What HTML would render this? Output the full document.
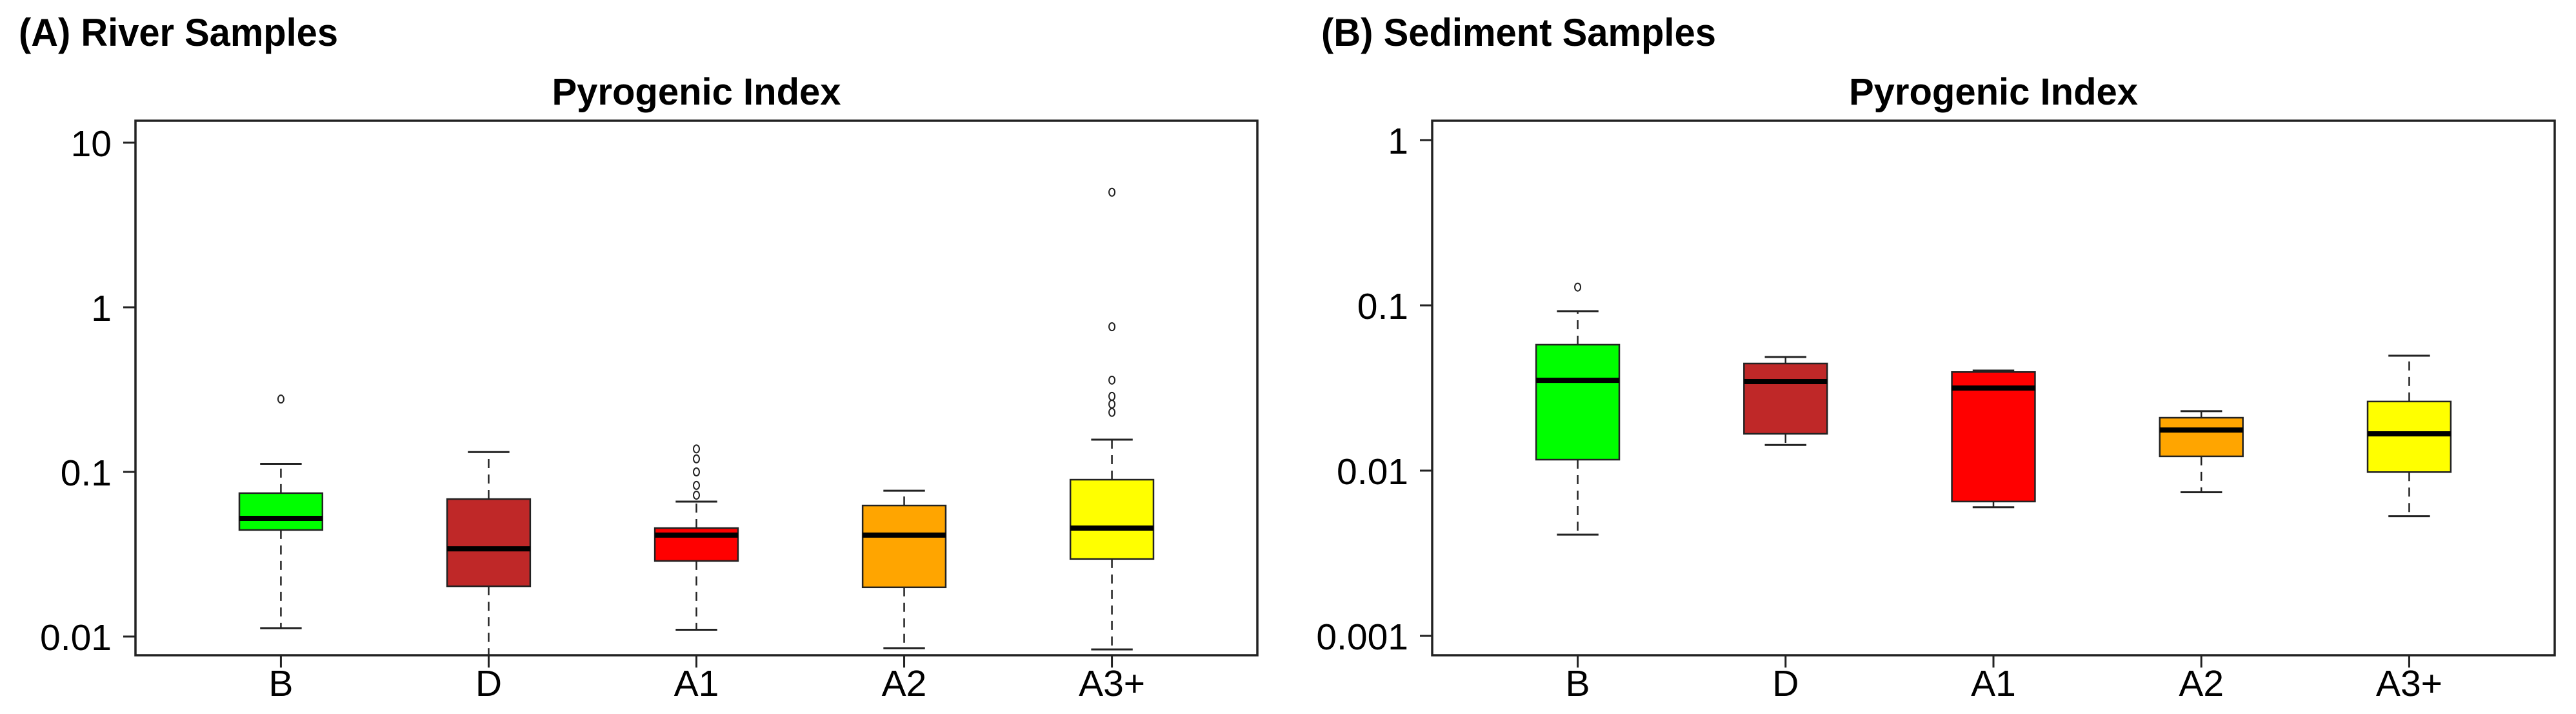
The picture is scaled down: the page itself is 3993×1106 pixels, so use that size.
<!DOCTYPE html>
<html><head><meta charset="utf-8"><style>
html,body{margin:0;padding:0;background:#fff;}
svg{display:block;font-family:"Liberation Sans",Arial,sans-serif;}
</style></head><body>
<svg id="chart" width="3993" height="1106" viewBox="0 0 3993 1106" xmlns="http://www.w3.org/2000/svg">
<rect x="0" y="0" width="3993" height="1106" fill="#fff"/>
<text x="29" y="71" font-size="60" font-weight="bold" textLength="495" lengthAdjust="spacingAndGlyphs">(A) River Samples</text>
<text x="2048" y="71" font-size="60" font-weight="bold" textLength="612" lengthAdjust="spacingAndGlyphs">(B) Sediment Samples</text>
</svg>
<script>
const categories = ["B","D","A1","A2","A3+"];
const colors = ["#00FF00","#BF2828","#FF0000","#FFA500","#FFFF00"];
// River samples: [lowerWhisker, Q1, median, Q3, upperWhisker]
const riverLow = [0.01125, 0.004, 0.0110, 0.0085, 0.00835];
const riverQ1 = [0.0444, 0.0202, 0.0288, 0.0199, 0.0296];
const riverMed = [0.0522, 0.0341, 0.0413, 0.0413, 0.0456];
const riverQ3 = [0.0743, 0.0684, 0.0456, 0.0625, 0.0897];
const riverHigh = [0.112, 0.132, 0.066, 0.0769, 0.157];
const riverOutliers = [[0.277], [], [0.138,0.120,0.100,0.0828,0.0722], [], [5.0,0.762,0.361,0.288,0.258,0.230]];
const riverTicks = [0.01, 0.1, 1, 10];
const riverTickLabels = ["0.01","0.1","1","10"];
// Sediment samples
const sedLow = [0.0041, 0.0143, 0.0060, 0.0074, 0.0053];
const sedQ1 = [0.01165, 0.0167, 0.0065, 0.0122, 0.0098];
const sedMed = [0.0352, 0.0346, 0.0316, 0.0176, 0.0167];
const sedQ3 = [0.0578, 0.0445, 0.0395, 0.0209, 0.0262];
const sedHigh = [0.0922, 0.0487, 0.0403, 0.0229, 0.0496];
const sedOutliers = [[0.129], [], [], [], []];
const sedTicks = [0.001, 0.01, 0.1, 1];
const sedTickLabels = ["0.001","0.01","0.1","1"];

const NS = "http://www.w3.org/2000/svg";
const svg = document.getElementById("chart");
function mk(tag, attrs, parent){
  const e = document.createElementNS(NS, tag);
  for (const k in attrs) e.setAttribute(k, attrs[k]);
  (parent||svg).appendChild(e);
  return e;
}

function panel(id, left, right, top, bottom, refVal, refY, decade, low, q1, med, q3, high, outs, ticks, tickLabels){
  const g = mk("g", {});
  
  
  const step = (right - left) / 5.4;
  const xScale = i => left + step * (i + 0.7);
  const yScale = v => refY - decade * Math.log10(v / refVal);
  const clipY = y => Math.min(Math.max(y, top), bottom);
  const cx = (left + right) / 2;
  const title = mk("text", {x: cx, y: 162, "font-size": 58, "font-weight": "bold", "text-anchor": "middle"}, g);
  title.textContent = "Pyrogenic Index";
  
  
  ticks.forEach((t, i) => {
    const y = yScale(t);
    const tl = mk("line", {x1: left - 19, x2: left, y1: y, y2: y, stroke: "#222", "stroke-width": 3}, g);
    
    
    const tx = mk("text", {x: left - 37, y: y + 21, "font-size": 57, "text-anchor": "end"}, g);
    tx.textContent = tickLabels[i];
    
    
  });
  categories.forEach((c, i) => {
    const x = xScale(i);
    const hw = step * 0.2, cw = step * 0.1;
    const grp = mk("g", {}, g);
    
    
    const yl = clipY(yScale(low[i])), y1 = yScale(q1[i]), ym = yScale(med[i]), y3 = yScale(q3[i]), yh = yScale(high[i]);
    const w1 = mk("line", {x1: x, x2: x, y1: y1, y2: yl, stroke: "#222", "stroke-width": 2.5, "stroke-dasharray": "14 10"}, grp);
    
    
    const w2 = mk("line", {x1: x, x2: x, y1: y3, y2: yh, stroke: "#222", "stroke-width": 2.5, "stroke-dasharray": "14 10"}, grp);
    
    
    if (yScale(low[i]) <= bottom) {
      const c1 = mk("line", {x1: x - cw, x2: x + cw, y1: yl, y2: yl, stroke: "#222", "stroke-width": 3}, grp);
      
      
    }
    const c2 = mk("line", {x1: x - cw, x2: x + cw, y1: yh, y2: yh, stroke: "#222", "stroke-width": 3}, grp);
    
    
    const r = mk("rect", {x: x - hw, y: y3, width: 2 * hw, height: y1 - y3, fill: colors[i], stroke: "#222", "stroke-width": 2.5}, grp);
    
    
    const m = mk("line", {x1: x - hw, x2: x + hw, y1: ym, y2: ym, stroke: "#000", "stroke-width": 8}, grp);
    
    
    outs[i].forEach(v => {
      const o = mk("ellipse", {cx: x, cy: yScale(v), rx: 4.5, ry: 6, fill: "none", stroke: "#222", "stroke-width": 2}, grp);
      
      
    });
    const xt = mk("line", {x1: x, x2: x, y1: bottom, y2: bottom + 19, stroke: "#222", "stroke-width": 3}, g);
    
    
    const xl = mk("text", {x: x, y: bottom + 63, "font-size": 57, "text-anchor": "middle"}, g);
    xl.textContent = c;
    
    
  });
  const frame = mk("rect", {x: left, y: top, width: right - left, height: bottom - top, fill: "none", stroke: "#222", "stroke-width": 3.5}, g);
  
  
}

panel("river", 210, 1949, 187, 1015, 1, 476, 255, riverLow, riverQ1, riverMed, riverQ3, riverHigh, riverOutliers, riverTicks, riverTickLabels);
panel("sediment", 2220, 3960, 187, 1015, 1, 217, 256, sedLow, sedQ1, sedMed, sedQ3, sedHigh, sedOutliers, sedTicks, sedTickLabels);
</script>
</body></html>
